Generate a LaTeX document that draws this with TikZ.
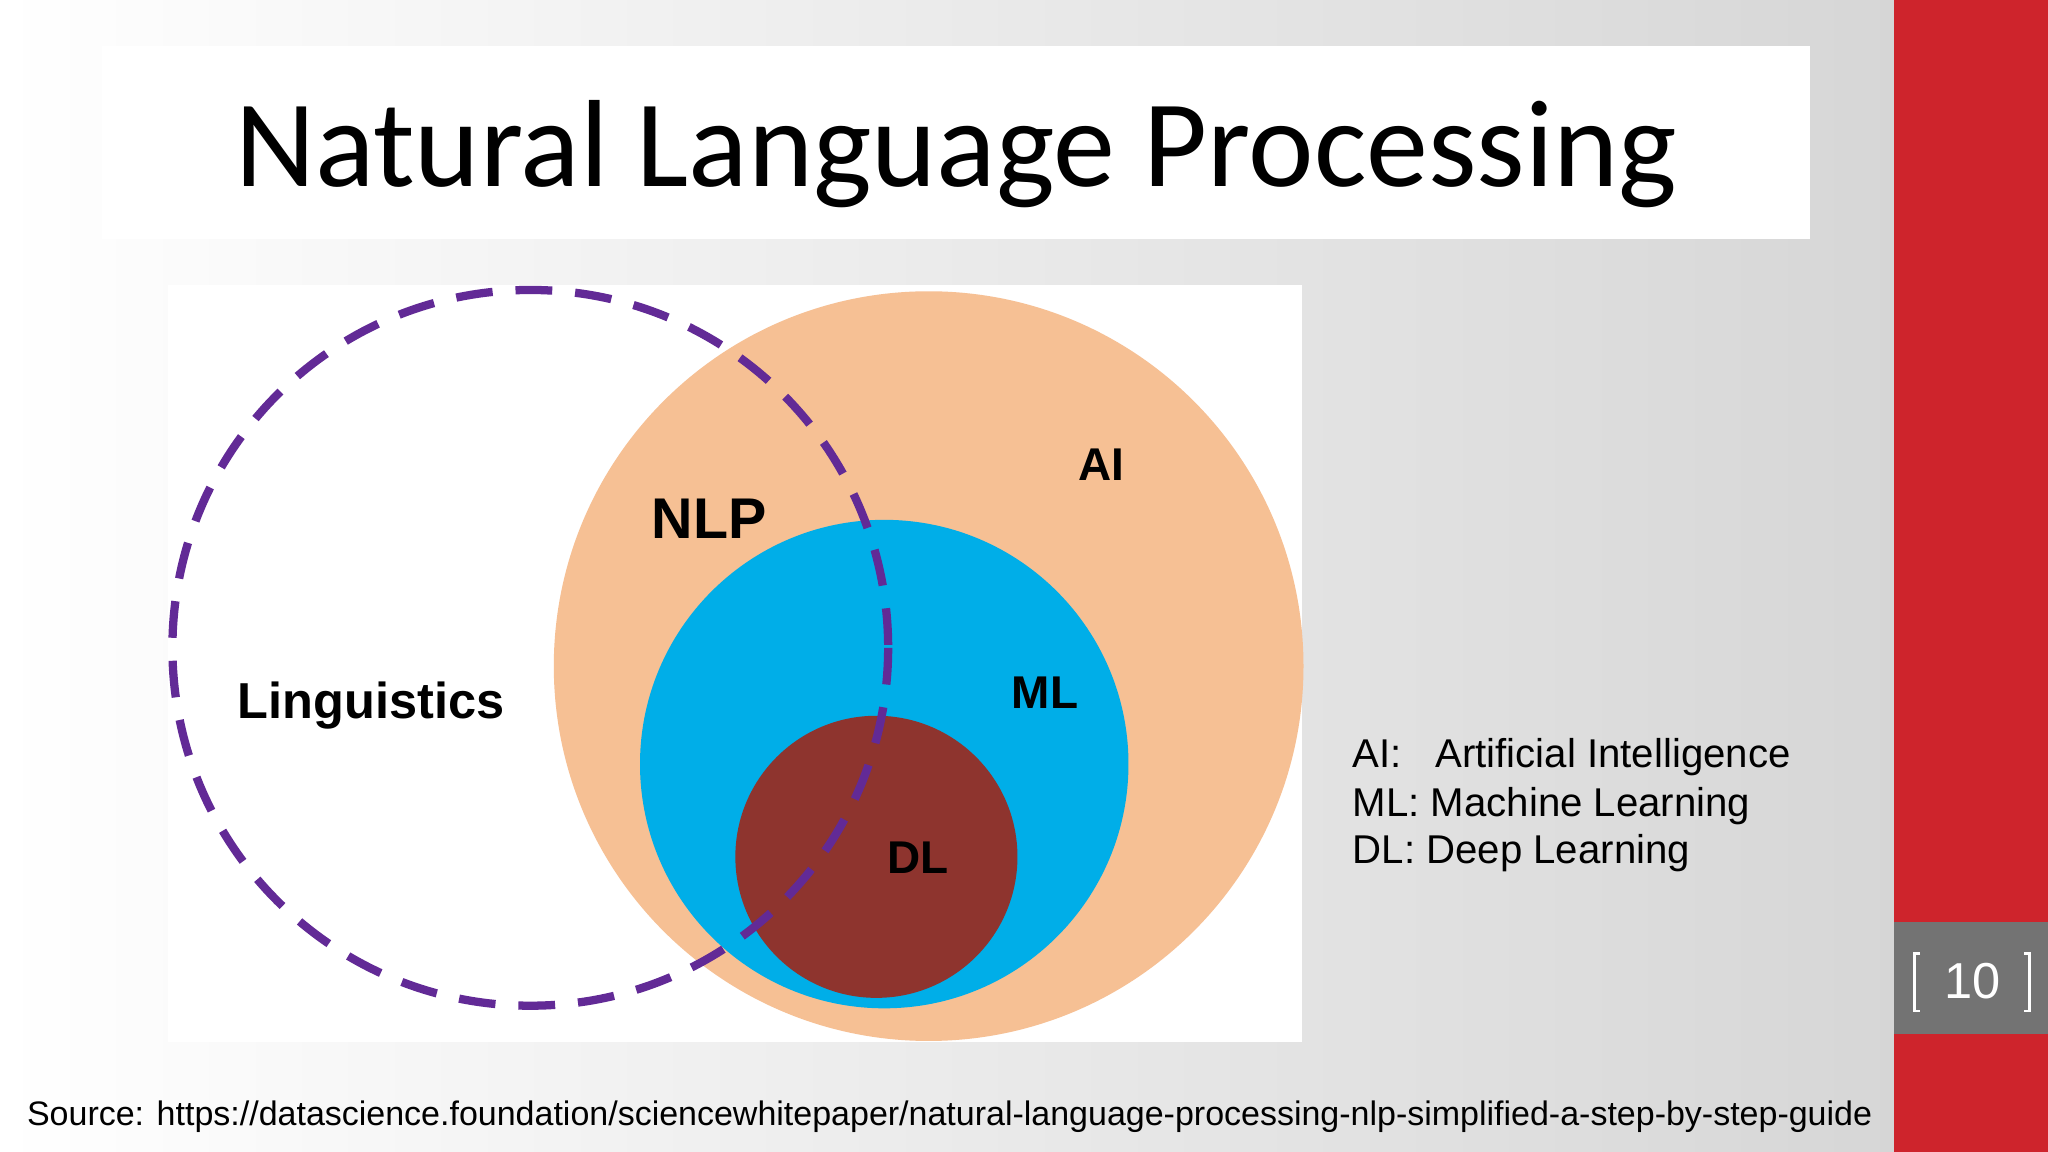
\documentclass[tikz,border=0pt]{standalone}
\usepackage{fontspec}
\setmainfont{Liberation Sans}
\newfontfamily\carl{Carlito}
\begin{document}
\begin{tikzpicture}[x=0.01cm,y=-0.01cm,
  lbl/.style={font=\bfseries\fontsize{10}{12}\selectfont},
  legend/.style={font=\fontsize{8.75}{10}\selectfont,anchor=west,inner sep=0}]
\definecolor{redbar}{RGB}{206,36,44}
\definecolor{aiorange}{RGB}{246,192,148}
\definecolor{mlblue}{RGB}{0,174,232}
\definecolor{dlred}{RGB}{142,52,46}
\definecolor{nlppurple}{RGB}{98,42,150}
\useasboundingbox (0,0) rectangle (1568,882);
\shade[left color=white,right color=black!16] (0,0) rectangle (1450,882);
\fill[redbar] (1450,0) rectangle (1568,882);
\fill[black!55] (1450,706) rectangle (1568,792);
\node[text=white,font=\fontsize{11}{13}\selectfont] (pg) at (1510,751) {10};
\draw[white,line width=0.6pt] (1470,730) -- (1466,730) -- (1466,774) -- (1470,774);
\draw[white,line width=0.6pt] (1550,730) -- (1554,730) -- (1554,774) -- (1550,774);
\fill[white] (78,35) rectangle (1386,183);
\node[font=\carl\fontsize{27}{30}\selectfont] (title) at (732,118) {Natural Language Processing};
\fill[white] (129,218) rectangle (997,798);
\fill[aiorange] (711,510) circle (287);
\fill[mlblue] (677,585) circle (187);
\fill[dlred] (671,656) circle (108);
\draw[nlppurple,line width=1.8pt,dash pattern=on 8pt off 5pt] (406,496) circle (274);
\node[lbl,font=\bfseries\fontsize{12.5}{14}\selectfont] (nlp) at (543,397) {NLP};
\node[lbl] (ai) at (843,356) {AI};
\node[lbl] (ml) at (800,530) {ML};
\node[lbl] (dl) at (703,657) {DL};
\node[lbl,font=\bfseries\fontsize{11}{13}\selectfont] (ling) at (284,540) {Linguistics};
\node[legend] (l1) at (1035,580) {AI:\ \ \ Artificial Intelligence};
\node[legend] (l2) at (1035,617) {ML: Machine Learning};
\node[legend] (l3) at (1035,653) {DL: Deep Learning};
\node[legend,font=\fontsize{7.4}{9}\selectfont] (src) at (20,855) {Source: https://datascience.foundation/sciencewhitepaper/natural-language-processing-nlp-simplified-a-step-by-step-guide};
\end{tikzpicture}
\end{document}
